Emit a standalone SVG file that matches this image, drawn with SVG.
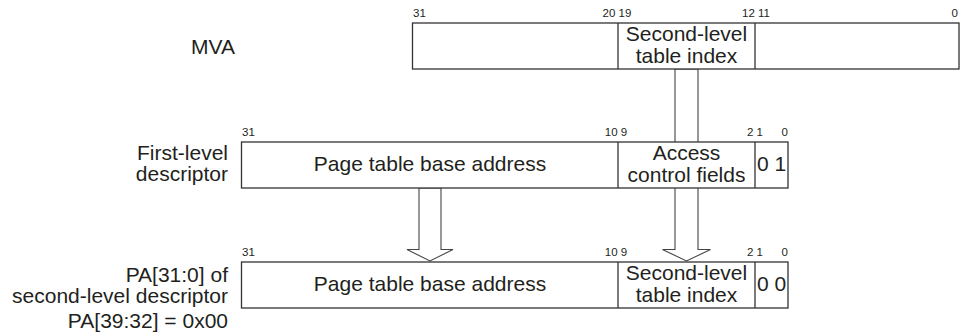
<svg xmlns="http://www.w3.org/2000/svg" width="960" height="336" viewBox="0 0 960 336">
<style>
.box{fill:#fff;stroke:#333;stroke-width:1.3}
.div{stroke:#333;stroke-width:1.3;fill:none}
.t{font-family:"Liberation Sans",Arial,sans-serif;font-size:21px;fill:#231f20}
.c{text-anchor:middle}
.e{text-anchor:end}
.b{font-family:"Liberation Sans",Arial,sans-serif;font-size:11.5px;fill:#231f20}
.arr{fill:#fff;stroke:#444;stroke-width:1.1}
</style>
<rect width="960" height="336" fill="#fff"/>
<g id="connectors">
<polygon class="arr" points="675,69 698,69 698,249.5 710.5,249.5 686.5,261 662.5,249.5 675,249.5"/>
<polygon class="arr" points="419,188 441,188 441,249.5 453,249.5 430,261 407,249.5 419,249.5"/>
</g>
<g id="mva">
<text class="t e" x="235" y="54">MVA</text>
<rect class="box" x="412.5" y="23" width="546.5" height="46"/>
<line class="div" x1="618" y1="23" x2="618" y2="69"/>
<line class="div" x1="755" y1="23" x2="755" y2="69"/>
<text class="t c" x="686.5" y="41">Second-level</text>
<text class="t c" x="686.5" y="63">table index</text>
<text class="b" x="413" y="17">31</text>
<text class="b c" x="617" y="17">20 19</text>
<text class="b c" x="756" y="17">12 11</text>
<text class="b e" x="958" y="17">0</text>
</g>
<g id="first-level">
<text class="t e" x="228" y="160">First-level</text>
<text class="t e" x="228" y="181">descriptor</text>
<rect class="box" x="241.5" y="142" width="546.5" height="46"/>
<line class="div" x1="618" y1="142" x2="618" y2="188"/>
<line class="div" x1="755" y1="142" x2="755" y2="188"/>
<text class="t c" x="430" y="171">Page table base address</text>
<text class="t c" x="686.5" y="159.5">Access</text>
<text class="t c" x="686.5" y="181.5">control fields</text>
<text class="t c" x="771.5" y="171">0 1</text>
<text class="b" x="242" y="136">31</text>
<text class="b c" x="616" y="136">10 9</text>
<text class="b c" x="755" y="136">2 1</text>
<text class="b e" x="788" y="136">0</text>
</g>
<g id="second-level">
<text class="t e" x="228" y="281.5">PA[31:0] of</text>
<text class="t e" x="228" y="303">second-level descriptor</text>
<text class="t e" x="228" y="328">PA[39:32] = 0x00</text>
<rect class="box" x="241.5" y="262" width="546.5" height="46"/>
<line class="div" x1="618" y1="262" x2="618" y2="308"/>
<line class="div" x1="755" y1="262" x2="755" y2="308"/>
<text class="t c" x="430" y="291">Page table base address</text>
<text class="t c" x="686.5" y="279.5">Second-level</text>
<text class="t c" x="686.5" y="301.5">table index</text>
<text class="t c" x="771.5" y="291">0 0</text>
<text class="b" x="242" y="256">31</text>
<text class="b c" x="616" y="256">10 9</text>
<text class="b c" x="755" y="256">2 1</text>
<text class="b e" x="788" y="256">0</text>
</g>
</svg>
